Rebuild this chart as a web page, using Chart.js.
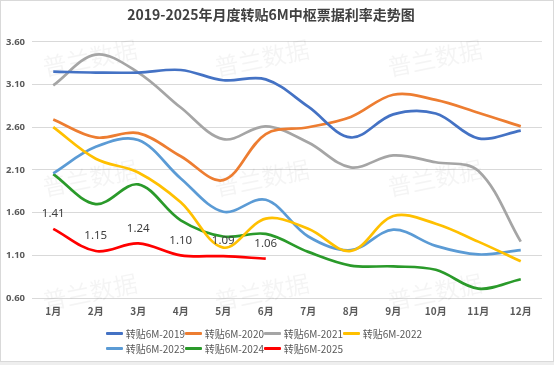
<!DOCTYPE html>
<html>
<head>
<meta charset="utf-8">
<script src="https://cdn.jsdelivr.net/npm/chart.js@4.4.1/dist/chart.umd.min.js"></script>
<style>
    body { margin: 0; background: #eeeeee; }
    #frame { position: absolute; left: 0; top: 0; width: 552px; height: 360px; background: #fff; border: 1px solid #d9d9d9; }
    #wrap { position: absolute; left: 0; top: 0; width: 554px; height: 365px; }
    #legend { position: absolute; left: 106px; top: 326px; width: 320px; font-family: "Noto Sans CJK SC", "Noto Sans", sans-serif; font-size: 10px; color: #595959; display: flex; flex-wrap: wrap; }
    .item { width: 79px; height: 15px; display: flex; align-items: center; white-space: nowrap; }
    .swatch { width: 22px; height: 3px; margin-right: 3px; border-radius: 1px; }
</style>
</head>
<body>
<div id="frame"></div>
<div id="wrap"><canvas id="chart" width="554" height="365"></canvas></div>
<div id="legend"></div>
<script>
const meses = ['1月', '2月', '3月', '4月', '5月', '6月', '7月', '8月', '9月', '10月', '11月', '12月'];
const series = ['转贴6M-2019', '转贴6M-2020', '转贴6M-2021', '转贴6M-2022', '转贴6M-2023', '转贴6M-2024', '转贴6M-2025'];

const datos2019 = [3.25, 3.24, 3.24, 3.27, 3.15, 3.16, 2.84, 2.48, 2.75, 2.76, 2.47, 2.56];
const datos2020 = [2.69, 2.48, 2.53, 2.26, 1.98, 2.52, 2.60, 2.72, 2.98, 2.92, 2.77, 2.61];
const datos2021 = [3.09, 3.45, 3.24, 2.83, 2.46, 2.61, 2.42, 2.13, 2.27, 2.19, 2.09, 1.26];
const datos2022 = [2.60, 2.23, 2.07, 1.72, 1.19, 1.53, 1.41, 1.15, 1.56, 1.47, 1.26, 1.03];
const datos2023 = [2.06, 2.37, 2.45, 2.00, 1.61, 1.75, 1.32, 1.16, 1.40, 1.21, 1.11, 1.16];
const datos2024 = [2.05, 1.70, 1.93, 1.51, 1.32, 1.35, 1.14, 0.98, 0.97, 0.93, 0.71, 0.82];
const datos2025 = [1.41, 1.15, 1.24, 1.10, 1.09, 1.06];

const yMin = 0.6, yMax = 3.6, yPaso = 0.5;
const colores = ['#4472C4', '#ED7D31', '#A5A5A5', '#FFC000', '#5B9BD5', '#2A9A2A', '#FF0000'];
const todos = [datos2019, datos2020, datos2021, datos2022, datos2023, datos2024, datos2025];

// marca de agua
const marcaAgua = {
    id: 'marcaAgua',
    beforeDatasetsDraw(chart) {
        const ctx = chart.ctx;
        ctx.save();
        ctx.fillStyle = 'rgba(0,0,0,0.045)';
        ctx.font = '24px "Noto Sans CJK SC"';
        ctx.textAlign = 'center';
        ctx.textBaseline = 'middle';
        [90, 262, 435].forEach(x => {
            [58, 178, 292].forEach(y => {
                ctx.save();
                ctx.translate(x, y);
                ctx.rotate(-0.2);
                ctx.fillText('普兰数据', 0, 0);
                ctx.restore();
            });
        });
        ctx.restore();
    }
};

// etiquetas de la serie 2025
const etiquetas = {
    id: 'etiquetas',
    afterDatasetsDraw(chart) {
        const ctx = chart.ctx;
        const meta = chart.getDatasetMeta(6);
        ctx.save();
        ctx.fillStyle = '#404040';
        ctx.font = '11.5px "Noto Sans"';
        ctx.textAlign = 'center';
        ctx.textBaseline = 'middle';
        meta.data.forEach((p, i) => {
            ctx.fillText(datos2025[i].toFixed(2), p.x, p.y - 15);
        });
        ctx.restore();
    }
};

const ctx = document.getElementById('chart').getContext('2d');
new Chart(ctx, {
    type: 'line',
    data: {
        labels: meses,
        datasets: series.map((s, i) => ({
            label: s,
            data: todos[i],
            borderColor: colores[i],
            backgroundColor: colores[i],
            borderWidth: 2.7,
            pointRadius: 0,
            tension: 0.35,
            fill: false
        }))
    },
    options: {
        responsive: false,
        animation: false,
        layout: { padding: { left: 0, right: 12, top: 0, bottom: 41 } },
        plugins: {
            legend: { display: false },
            tooltip: { enabled: false },
            title: {
                display: true,
                text: '2019-2025年月度转贴6M中枢票据利率走势图',
                color: '#404040',
                font: { family: '"Noto Sans CJK SC"', size: 14, weight: 'bold' },
                padding: { top: 6, bottom: 19 }
            }
        },
        scales: {
            x: {
                offset: true,
                grid: { display: false, drawTicks: false },
                border: { display: false },
                ticks: { color: '#595959', padding: 7, maxRotation: 0, font: { family: '"Noto Sans CJK SC"', size: 10, weight: 'bold' } }
            },
            y: {
                min: yMin,
                max: yMax,
                afterFit(scale) { scale.width = 32; },
                grid: { color: '#d9d9d9', drawTicks: false },
                border: { display: false },
                ticks: {
                    stepSize: yPaso,
                    padding: 7,
                    color: '#595959',
                    font: { family: '"Noto Sans"', size: 9.5, weight: 'bold' },
                    callback: v => v.toFixed(2)
                }
            }
        }
    },
    plugins: [marcaAgua, etiquetas]
});

const leyenda = document.getElementById('legend');
series.forEach((s, i) => {
    const item = document.createElement('div');
    item.className = 'item';
    item.innerHTML = `<span class="swatch" style="background:${colores[i]}"></span><span>${s}</span>`;
    leyenda.appendChild(item);
});
</script>
</body>
</html>
